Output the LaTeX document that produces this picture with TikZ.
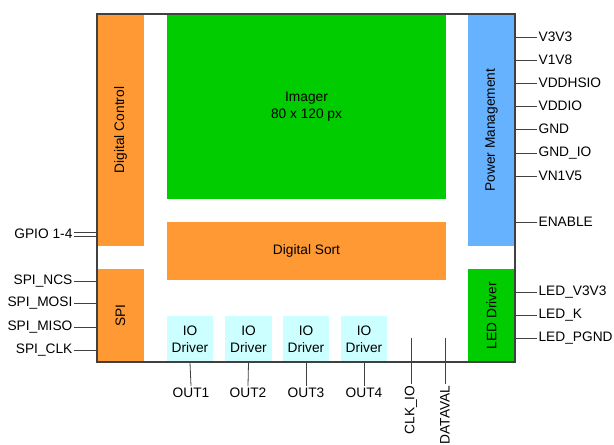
\documentclass[tikz,border=0pt]{standalone}
\usepackage{fontspec}
\setmainfont{Liberation Sans}
\usepackage{tikz}
\usetikzlibrary{fit}
\usetikzlibrary{positioning}

\definecolor{blkorange}{RGB}{255,153,51}
\definecolor{blkgreen}{RGB}{0,204,0}
\definecolor{blkblue}{RGB}{102,178,255}
\definecolor{blkcyan}{RGB}{204,255,255}
\definecolor{edgegray}{RGB}{64,64,64}

\begin{document}
\begin{tikzpicture}[
  x=0.75pt, y=-0.75pt,
  every node/.style={align=center, font=\fontsize{10.3}{12.4}\selectfont},
  blk/.style={inner sep=0pt, draw=none},
  pinlbl/.style={inner sep=1pt},
  pin/.style={draw=edgegray, line width=0.6pt}
]
\useasboundingbox (0,0) rectangle (614,444);

% blocks
\node[blk, fill=blkorange, fit={(97,14) (144,246)}] (dc) {};
\node[rotate=90] at (dc) {Digital Control};
\node[blk, fill=blkorange, fit={(97,269) (144,362)}] (spi) {};
\node[rotate=90] at (spi) {SPI};
\node[blk, fill=blkgreen, fit={(167,14) (446,199)}] (img) {};
\node at (img) {Imager\\80 x 120 px};
\node[blk, fill=blkorange, fit={(167,222) (446,280)}] (sort) {};
\node at (sort) {Digital Sort};
\node[blk, fill=blkblue, fit={(468,14) (515,246)}] (pm) {};
\node[rotate=90] at (pm) {Power Management};
\node[blk, fill=blkgreen, fit={(468,269) (515,362)}] (led) {};
\node[rotate=90] at (led) {LED Driver};

% IO drivers
\node[blk, fill=blkcyan, fit={(167,316) (213,362)}] (io1) {};
\node at (io1) {IO\\Driver};
\node[blk, fill=blkcyan, fit={(225,316) (272,362)}] (io2) {};
\node at (io2) {IO\\Driver};
\node[blk, fill=blkcyan, fit={(283,316) (329,362)}] (io3) {};
\node at (io3) {IO\\Driver};
\node[blk, fill=blkcyan, fit={(341,316) (387,362)}] (io4) {};
\node at (io4) {IO\\Driver};

% chip outline
\node[draw=edgegray, line width=1pt, inner sep=0pt, fit={(97,14) (515,362)}] (chip) {};

% right pins
\node[pinlbl, anchor=west] (v3v3) at (537,37) {V3V3};
\node[pinlbl, anchor=west] (v1v8) at (537,60) {V1V8};
\node[pinlbl, anchor=west] (vddhsio) at (537,83) {VDDHSIO};
\node[pinlbl, anchor=west] (vddio) at (537,106) {VDDIO};
\node[pinlbl, anchor=west] (gnd) at (537,129) {GND};
\node[pinlbl, anchor=west] (gndio) at (537,153) {GND\_IO};
\node[pinlbl, anchor=west] (vn1v5) at (537,176) {VN1V5};
\node[pinlbl, anchor=west] (enable) at (537,222) {ENABLE};
\node[pinlbl, anchor=west] (ledv3v3) at (537,292) {LED\_V3V3};
\node[pinlbl, anchor=west] (ledk) at (537,315) {LED\_K};
\node[pinlbl, anchor=west] (ledpgnd) at (537,338) {LED\_PGND};
\foreach \p in {v3v3,v1v8,vddhsio,vddio,gnd,gndio,vn1v5,enable,ledv3v3,ledk,ledpgnd}
  \draw[pin] (chip.east |- \p.west) -- (\p.west);

% left pins
\node[pinlbl, anchor=east] (gpio) at (74,234) {GPIO 1-4};
\draw[pin] ([yshift=1.5pt]gpio.east) -- ([yshift=1.5pt]chip.west |- gpio.east);
\draw[pin] ([yshift=-1.5pt]gpio.east) -- ([yshift=-1.5pt]chip.west |- gpio.east);
\node[pinlbl, anchor=east] (ncs) at (74,281) {SPI\_NCS};
\node[pinlbl, anchor=east] (mosi) at (74,303) {SPI\_MOSI};
\node[pinlbl, anchor=east] (miso) at (74,327) {SPI\_MISO};
\node[pinlbl, anchor=east] (sclk) at (74,350) {SPI\_CLK};
\foreach \p in {ncs,mosi,miso,sclk}
  \draw[pin] (\p.east) -- (chip.west |- \p.east);

% bottom pins
\node[pinlbl, anchor=north] (out1) at (191,386) {OUT1};
\node[pinlbl, anchor=north] (out2) at (248,386) {OUT2};
\node[pinlbl, anchor=north] (out3) at (306,386) {OUT3};
\node[pinlbl, anchor=north] (out4) at (364,386) {OUT4};
\foreach \i in {1,...,4}
  \draw[pin] (io\i.south |- chip.south) -- (out\i.north);
\coordinate (clkin) at (411,338);
\coordinate (dvin) at (445,338);
\node[pinlbl, rotate=90, anchor=east] (clkio) at (411,384) {CLK\_IO};
\node[pinlbl, rotate=90, anchor=east] (dataval) at (445,384) {DATAVAL};
\draw[pin] (clkin) -- (clkio.east);
\draw[pin] (dvin) -- (dataval.east);
\end{tikzpicture}
\end{document}
